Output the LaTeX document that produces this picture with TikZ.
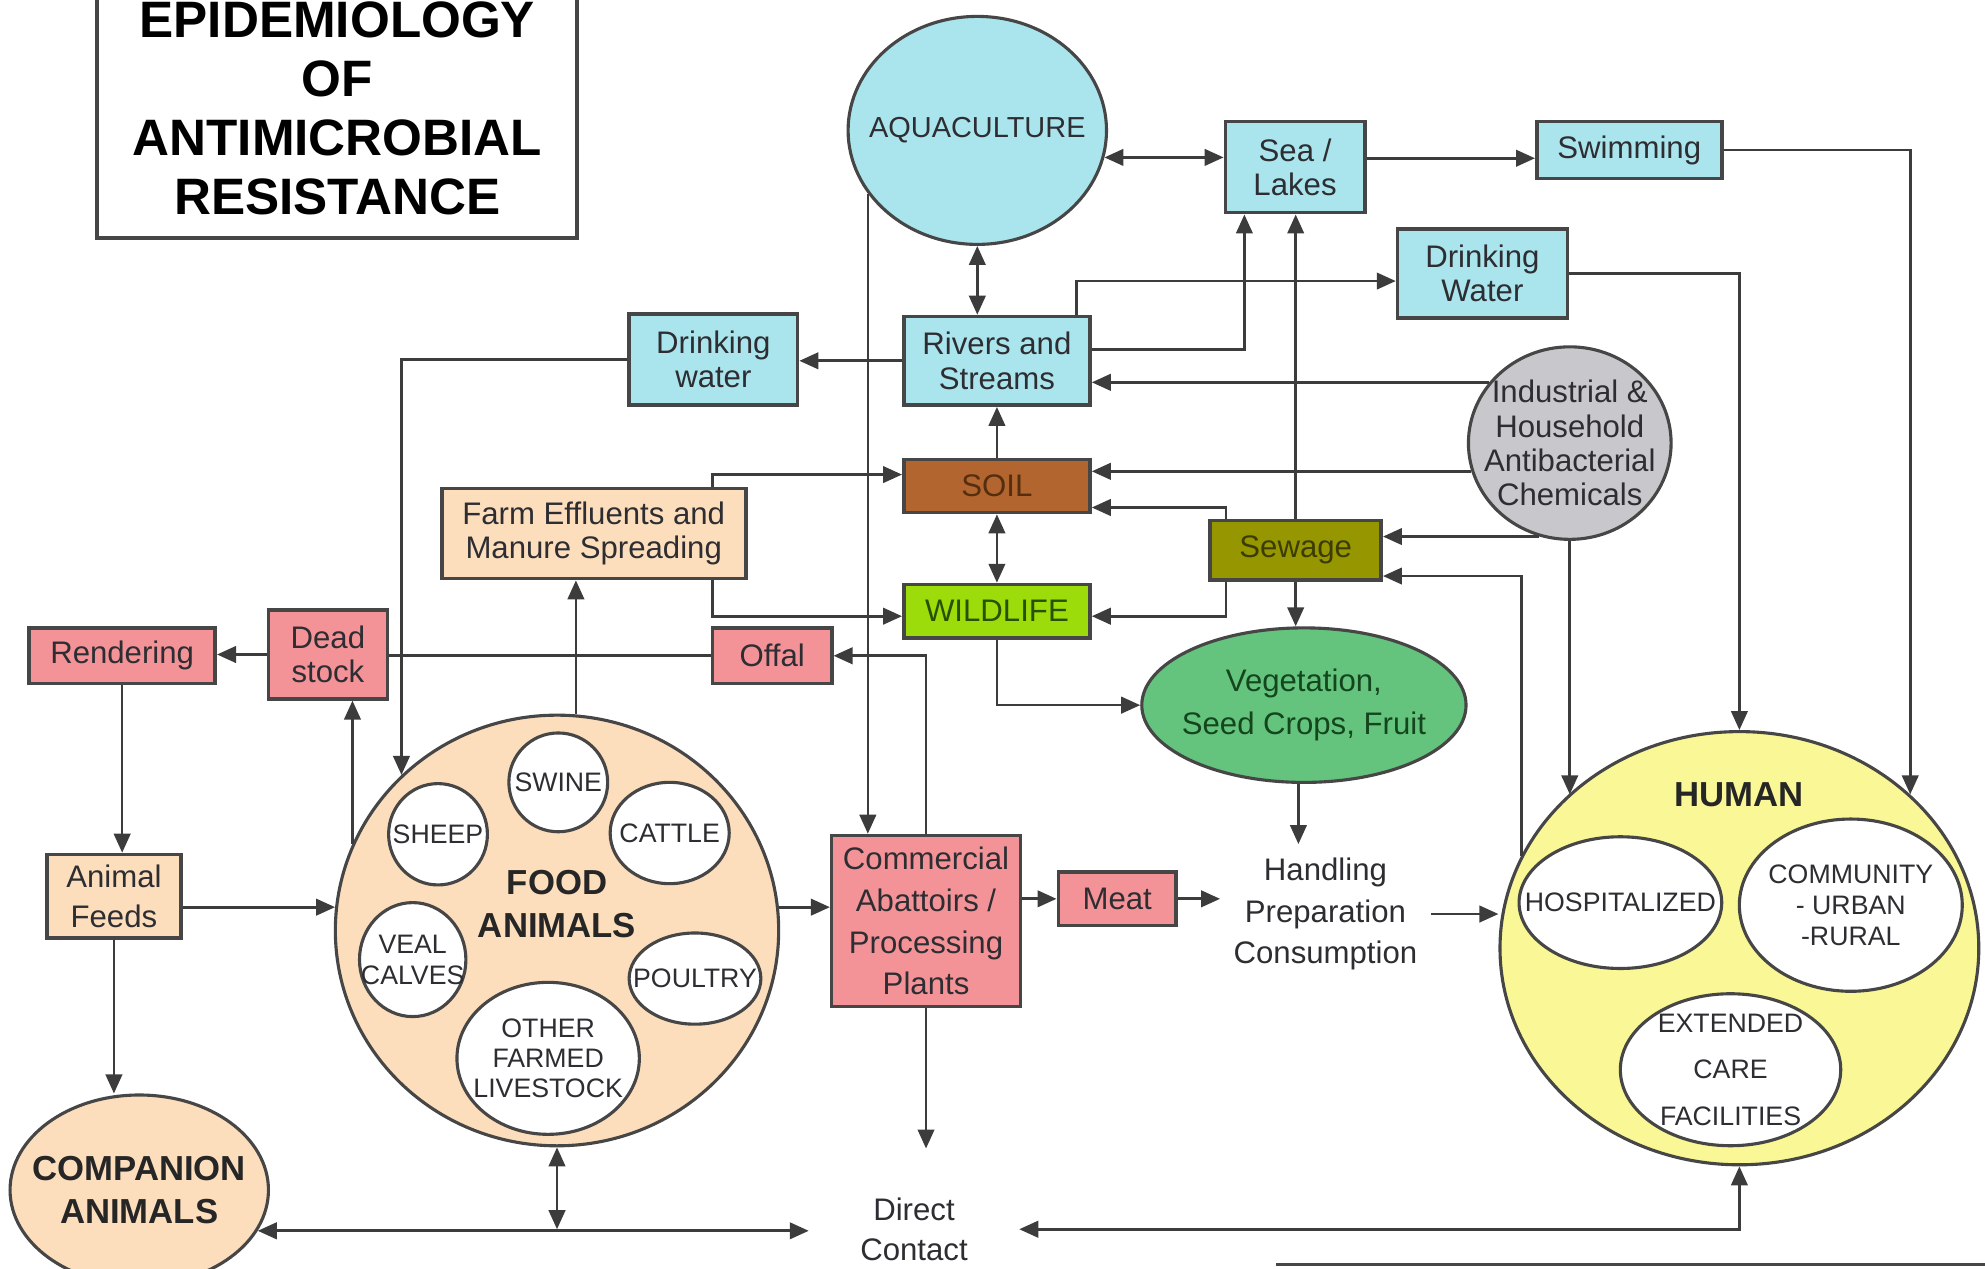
\documentclass[tikz,border=0pt]{standalone}
\usepackage{fontspec}
\setmainfont{Liberation Sans}
\usetikzlibrary{shapes.geometric,arrows.meta,positioning}

\definecolor{aquafill}{RGB}{170,228,236}
\definecolor{soilfill}{RGB}{178,101,47}
\definecolor{soiltext}{RGB}{85,45,15}
\definecolor{wildfill}{RGB}{155,220,10}
\definecolor{wildtext}{RGB}{40,80,0}
\definecolor{sewfill}{RGB}{150,150,0}
\definecolor{sewtext}{RGB}{60,60,0}
\definecolor{vegfill}{RGB}{100,195,125}
\definecolor{vegtext}{RGB}{20,70,30}
\definecolor{chemfill}{RGB}{200,200,204}
\definecolor{pinkfill}{RGB}{243,147,152}
\definecolor{peachfill}{RGB}{252,222,188}
\definecolor{humanfill}{RGB}{250,247,150}
\definecolor{edgegray}{RGB}{70,70,70}
\definecolor{linkgray}{RGB}{60,60,60}
\definecolor{inkgray}{RGB}{45,45,50}

\begin{document}
\begin{tikzpicture}[x=0.01cm, y=-0.01cm,
	box/.style={rectangle, draw=edgegray, line width=0.8pt, inner sep=0pt, align=center, text=inkgray, font=\fontsize{7}{7.7}\selectfont},
	dims/.style 2 args={minimum width=#1cm, minimum height=#2cm},
	water/.style={box, fill=aquafill},
	redbox/.style={box, fill=pinkfill},
	tanbox/.style={box, fill=peachfill},
	bubble/.style={ellipse, draw=edgegray, line width=0.7pt, inner sep=0pt},
	pocket/.style={bubble, fill=white},
	txt7/.style={text=inkgray, align=center, font=\fontsize{7}{7.7}\selectfont},
	txt6/.style={text=inkgray, align=center, font=\fontsize{6}{7}\selectfont},
	bigtxt/.style={text=black!85, align=center, font=\bfseries\fontsize{7.8}{9.7}\selectfont},
	plain/.style={align=center, text=inkgray, inner sep=1mm},
	link/.style={draw=linkgray, line width=0.6pt},
	>={Triangle[length=1.5mm, width=1.3mm]}]

	\useasboundingbox (0,0) rectangle (1568,1002);
	\clip (0,0) rectangle (1568,1002);
	\fill[white] (0,0) rectangle (1568,1002);

	\node[draw=edgegray, line width=0.9pt, dims={3.79}{2.05}, align=center, font=\bfseries\fontsize{11.5}{13.2}\selectfont] (title) at (266.5,85.5) {EPIDEMIOLOGY\\OF\\ANTIMICROBIAL\\RESISTANCE};

	\node[bubble, fill=aquafill, dims={2.04}{1.80}, label={[txt7, font=\fontsize{6.5}{7}\selectfont]center:AQUACULTURE}] (aqua) at (772,103) {};
	\node[water, dims={1.10}{0.72}] (sea) at (1023,132) {Sea /\\Lakes};
	\node[water, dims={1.46}{0.45}] (swim) at (1287,118.5) {Swimming};
	\node[water, dims={1.34}{0.70}] (drinkR) at (1171,216) {Drinking\\Water};
	\node[water, dims={1.33}{0.72}] (drinkL) at (563.5,284) {Drinking\\water};
	\node[water, dims={1.47}{0.70}] (rivers) at (787.5,285) {Rivers and\\Streams};
	\node[box, fill=soilfill, text=soiltext, dims={1.47}{0.42}, below=0.4cm of rivers] (soil) {SOIL};
	\node[box, fill=wildfill, text=wildtext, dims={1.47}{0.42}, below=0.54cm of soil] (wild) {WILDLIFE};
	\node[tanbox, dims={2.40}{0.71}] (farm) at (469,421.5) {Farm Effluents and\\Manure Spreading};
	\node[bubble, fill=chemfill, dims={1.60}{1.52}, label={[txt7]center:Industrial \&\\Household\\Antibacterial\\Chemicals}] (indus) at (1240,350) {};
	\node[box, fill=sewfill, text=sewtext, dims={1.35}{0.47}] (sewage) at (1023.5,434.5) {Sewage};
	\node[bubble, fill=vegfill, dims={2.56}{1.22}, label={[txt7, text=vegtext, font=\fontsize{7}{9.7}\selectfont]center:Vegetation,\\Seed Crops, Fruit}] (veg) at (1030,557) {};

	\node[redbox, dims={1.47}{0.44}] (render) at (96.5,518) {Rendering};
	\node[redbox, dims={0.94}{0.70}] (dead) at (259,517) {Dead\\stock};
	\node[redbox, dims={0.94}{0.44}] (offal) at (610,518) {Offal};
	\node[tanbox, dims={1.06}{0.66}, font=\fontsize{7}{9}\selectfont] (feeds) at (90,708) {Animal\\Feeds};

	\node[bubble, fill=peachfill, dims={3.50}{3.40}, label={[bigtxt, yshift=2.1mm]center:FOOD\\ANIMALS}] (food) at (440,735) {};
	\node[pocket, dims={0.78}{0.78}, label={[txt6]center:SWINE}] (swine) at (441,618) {};
	\node[pocket, dims={0.78}{0.80}, label={[txt6]center:SHEEP}] (sheep) at (346,659) {};
	\node[pocket, dims={0.94}{0.80}, label={[txt6]center:CATTLE}] (cattle) at (529,658) {};
	\node[pocket, dims={0.84}{0.90}, label={[txt6]center:VEAL\\CALVES}] (veal) at (326,758) {};
	\node[pocket, dims={1.04}{0.72}, label={[txt6]center:POULTRY}] (poultry) at (549,773) {};
	\node[pocket, dims={1.44}{1.20}, label={[txt6, font=\fontsize{6}{6.7}\selectfont]center:OTHER\\FARMED\\LIVESTOCK}] (other) at (433,836) {};

	\node[redbox, dims={1.49}{1.35}, font=\fontsize{7}{9.4}\selectfont] (abattoir) at (731.5,727.5) {Commercial\\Abattoirs /\\Processing\\Plants};
	\node[redbox, dims={0.93}{0.42}] (meat) at (882.5,710) {Meat};
	\node[plain, font=\fontsize{7}{9.4}\selectfont] (handling) at (1047,722) {Handling\\Preparation\\Consumption};

	\node[bubble, fill=humanfill, dims={3.78}{3.42}, label={[bigtxt, yshift=12.1mm]center:HUMAN}] (human) at (1374,749) {};
	\node[pocket, dims={1.60}{1.04}, label={[txt6]center:HOSPITALIZED}] (hosp) at (1280,713) {};
	\node[pocket, dims={1.76}{1.36}, label={[txt6]center:COMMUNITY\\- URBAN\\-RURAL}] (comm) at (1462,715) {};
	\node[pocket, dims={1.74}{1.20}, label={[txt6, font=\fontsize{6}{10.5}\selectfont]center:EXTENDED\\CARE\\FACILITIES}] (ext) at (1367,845) {};

	\node[bubble, fill=peachfill, dims={2.04}{1.50}, label={[bigtxt]center:COMPANION\\ANIMALS}] (companion) at (110,940) {};
	\node[plain, inner xsep=4mm, inner ysep=3.8mm, font=\fontsize{7}{9.1}\selectfont] (direct) at (722,971) {Direct\\Contact};

	\coordinate (rimL) at (1008,999);
	\coordinate (rimR) at (1568,999);
	\draw[edgegray, line width=0.6pt] (rimL) -- (rimR);

	\draw[link, <->] (aqua.348) -- (aqua.348 -| sea.west);
	\draw[link, ->] ([yshift=0.7mm]sea.east) -- ([yshift=0.7mm]sea.east -| swim.west);
	\draw[link, ->] (swim.east) -| (human.42);
	\draw[link, ->] (drinkR.east) -| (human.north);
	\draw[link, ->] (indus.south) -- (indus.south |- human.138);
	\draw[link, <->] (aqua.south) -- (aqua.south |- rivers.north);
	\draw[link, ->] (aqua.210) -- (aqua.210 |- abattoir.north);
	\draw[link, ->] (rivers.west) -- (rivers.west -| drinkL.east);
	\draw[link, ->] (drinkL.west) -| (food.135);
	\draw[link, ->] ([yshift=0.9mm]rivers.east) -| ([xshift=-4mm]sea.south);
	\draw[link, ->] ([xshift=-1.2mm]rivers.north east) |- ([yshift=-0.6mm]drinkR.west);
	\draw[link, ->] (indus.143) -- (indus.143 -| rivers.east);
	\draw[link, ->] (indus.196) -- (indus.196 -| soil.east);
	\draw[link, ->] ([xshift=-5.5mm]sewage.north) |- ([yshift=-1.7mm]soil.east);
	\draw[link, ->] ([xshift=-5.5mm]sewage.south) |- ([yshift=-0.4mm]wild.east);
	\draw[link, ->] (sewage.north) -- (sewage.north |- sea.south);
	\draw[link, ->] (sewage.south) -- (sewage.south |- veg.north);
	\draw[link, ->] (indus.252) -- (indus.252 -| sewage.east);
	\draw[link, ->] (human.157) |- ([yshift=-2.05mm]sewage.east);
	\draw[link, ->] (soil.north) -- (rivers.south);
	\draw[link, <->] (soil.south) -- (wild.north);
	\draw[link, ->] ([xshift=9.4mm]farm.north) |- ([yshift=0.9mm]soil.west);
	\draw[link, ->] ([xshift=9.4mm]farm.south) |- ([yshift=-0.4mm]wild.west);
	\draw[link, ->] (wild.south) |- (veg.west);
	\draw[link, ->] (food.85) -- (food.85 |- farm.south);
	\draw[link, ->] (food.157) -- (food.157 |- dead.south);
	\draw[link] (offal.west) -- (offal.west -| dead.east);
	\draw[link, ->] (dead.west) -- (dead.west -| render.east);
	\draw[link, ->] (abattoir.north) |- (offal.east);
	\draw[link, ->] (render.south) -- (render.south |- feeds.north);
	\draw[link, ->] (feeds.east |- food.174) -- (food.174);
	\draw[link, ->] (feeds.south) -- (feeds.south |- companion.north);
	\draw[link, ->] (food.6) -- (food.6 -| abattoir.west);
	\draw[link, ->] (abattoir.east |- meat.west) -- (meat.west);
	\draw[link, ->] (meat.east) -- (meat.east -| handling.west);
	\draw[link, ->] (handling.east) -- (handling.east -| human.west);
	\draw[link, ->] (veg.266) -- (veg.266 |- handling.north);
	\draw[link, ->] (abattoir.south) -- (abattoir.south |- direct.north);
	\draw[link, <->] (companion.341) -- (companion.341 -| direct.west);
	\draw[link, <->] (food.south) -- (food.south |- direct.west);
	\draw[link, <->] (direct.east) -| (human.south);
\end{tikzpicture}
\end{document}
